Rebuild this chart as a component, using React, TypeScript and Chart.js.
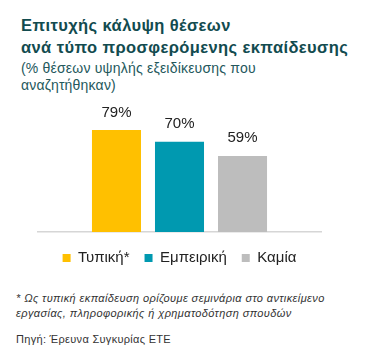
import React, { useEffect, useRef } from "react";
import { Chart, registerables } from "chart.js";

Chart.register(...registerables);

const titleLines = ["Επιτυχής κάλυψη θέσεων", "ανά τύπο προσφερόμενης εκπαίδευσης"];
const subtitleLines = ["(% θέσεων υψηλής εξειδίκευσης που", "αναζητήθηκαν)"];
const seriesNames = ["Τυπική*", "Εμπειρική", "Καμία"];
const seriesValues = [79, 70, 59];
const seriesColors = ["#FFC000", "#0099B0", "#BDBDBD"];
const footnoteLines = [
  "* Ως τυπική εκπαίδευση ορίζουμε σεμινάρια στο αντικείμενο",
  "εργασίας, πληροφορικής ή χρηματοδότηση σπουδών",
];
const sourceText = "Πηγή: Έρευνα Συγκυρίας ΕΤΕ";

const FONT = "'Liberation Sans', Arial, sans-serif";

const valueLabels = {
  id: "valueLabels",
  afterDatasetsDraw(chart: any) {
    const ctx = chart.ctx;
    ctx.save();
    ctx.font = `15px ${FONT}`;
    ctx.fillStyle = "#222222";
    ctx.textAlign = "center";
    ctx.textBaseline = "alphabetic";
    chart.data.datasets.forEach((ds: any, i: number) => {
      const meta = chart.getDatasetMeta(i);
      meta.data.forEach((el: any, j: number) => {
        ctx.fillText(`${ds.data[j]}%`, el.x, el.y - 13.5);
      });
    });
    ctx.restore();
  },
};

export default function App() {
  const canvasRef = useRef<HTMLCanvasElement | null>(null);

  useEffect(() => {
    if (!canvasRef.current) return;
    const chart = new Chart(canvasRef.current, {
      type: "bar",
      data: {
        labels: [""],
        datasets: seriesNames.map((name, i) => ({
          label: name,
          data: [seriesValues[i]],
          backgroundColor: seriesColors[i],
          borderWidth: 0,
          categoryPercentage: 0.668,
          barPercentage: 0.778,
        })),
      },
      options: {
        animation: false,
        responsive: false,
        maintainAspectRatio: false,
        layout: { padding: { left: 38, right: 64, top: 8, bottom: 4.5 } },
        scales: {
          x: {
            display: true,
            grid: {
              display: true,
              drawOnChartArea: false,
              drawTicks: true,
              tickLength: 3.5,
              color: "transparent",
            },
            border: { display: true, color: "#D6D6D6", width: 1.5 },
            ticks: { display: false },
          },
          y: {
            display: false,
            min: 0,
            max: 100,
          },
        },
        plugins: {
          legend: {
            display: true,
            position: "bottom",
            labels: {
              boxWidth: 8,
              boxHeight: 8,
              padding: 15,
              color: "#222222",
              font: { family: FONT, size: 15 },
            },
          },
          tooltip: { enabled: false },
        },
      },
      plugins: [valueLabels],
    });
    return () => chart.destroy();
  }, []);

  return (
    <div
      style={{
        position: "absolute",
        left: 0,
        top: 0,
        width: 385,
        height: 355,
        background: "#ffffff",
        fontFamily: FONT,
        overflow: "hidden",
      }}
    >
      <div
        style={{
          position: "absolute",
          left: 21,
          top: 14.4,
          fontSize: 16.5,
          lineHeight: "22px",
          fontWeight: "bold",
          letterSpacing: "0.4px",
          color: "#124B4F",
          whiteSpace: "nowrap",
        }}
      >
        {titleLines.map((t, i) => (
          <div key={i}>{t}</div>
        ))}
      </div>
      <div
        style={{
          position: "absolute",
          left: 21,
          top: 60.4,
          fontSize: 14,
          lineHeight: "17px",
          letterSpacing: "0.2px",
          color: "#24585C",
          whiteSpace: "nowrap",
        }}
      >
        {subtitleLines.map((t, i) => (
          <div key={i}>{t}</div>
        ))}
      </div>
      <canvas
        ref={canvasRef}
        width={385}
        height={185}
        style={{ position: "absolute", left: 0, top: 95, width: 385, height: 185 }}
      />
      <div
        style={{
          position: "absolute",
          left: 16,
          top: 290.6,
          fontSize: 11,
          lineHeight: "15px",
          letterSpacing: "0.4px",
          fontStyle: "italic",
          color: "#333333",
          whiteSpace: "nowrap",
        }}
      >
        {footnoteLines.map((t, i) => (
          <div key={i}>{t}</div>
        ))}
      </div>
      <div
        style={{
          position: "absolute",
          left: 16,
          top: 332.2,
          fontSize: 11,
          lineHeight: "15px",
          letterSpacing: "0.3px",
          color: "#333333",
          whiteSpace: "nowrap",
        }}
      >
        {sourceText}
      </div>
    </div>
  );
}
